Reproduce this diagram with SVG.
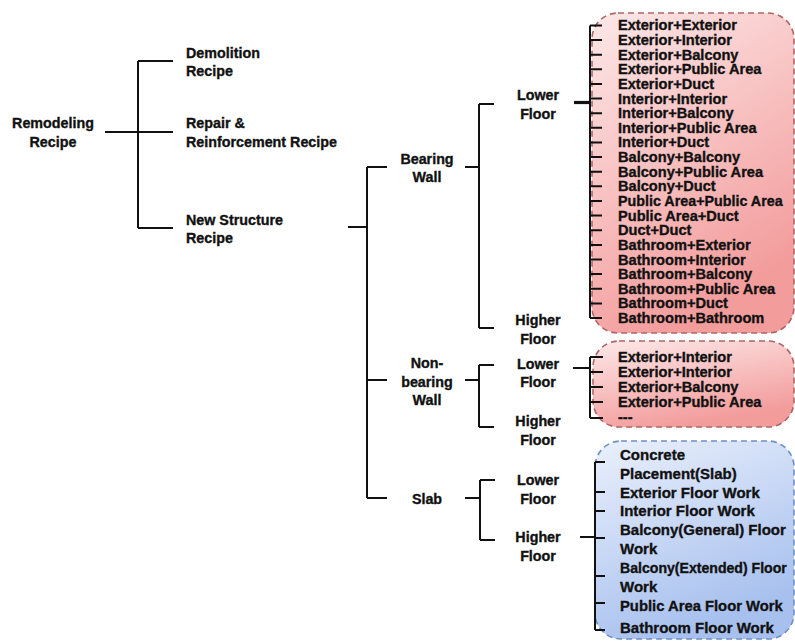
<svg xmlns="http://www.w3.org/2000/svg" width="795" height="644" viewBox="0 0 795 644">
<defs>
<linearGradient id="gRed" x1="0" y1="0" x2="0.4" y2="1">
<stop offset="0" stop-color="#fde8e8"/>
<stop offset="1" stop-color="#f39c9c"/>
</linearGradient>
<linearGradient id="gBlue" x1="0" y1="0" x2="0.4" y2="1">
<stop offset="0" stop-color="#eaf0fc"/>
<stop offset="1" stop-color="#a7c0ee"/>
</linearGradient>
<style>
text{font-family:"Liberation Sans",Arial,sans-serif;font-weight:bold;fill:#111;stroke:#111;stroke-width:0.35}
.lbl{font-size:14.3px;text-anchor:middle}
.lft{font-size:14.3px}
.red{font-size:14.6px}
.blu{font-size:15px}
.ln{stroke:#111;stroke-width:2;fill:none}
.boxr{fill:url(#gRed);stroke:#b06464;stroke-width:1.6;stroke-dasharray:6 4}
.boxb{fill:url(#gBlue);stroke:#6f8fc4;stroke-width:1.6;stroke-dasharray:6 4}
</style>
</defs>
<rect width="795" height="644" fill="#fff"/>

<g id="box-bearing-lower">
<rect class="boxr" x="592" y="13" width="202" height="320" rx="26"/>
<text class="red" x="618" y="30.4">Exterior+Exterior</text>
<text class="red" x="618" y="45.0">Exterior+Interior</text>
<text class="red" x="618" y="59.7">Exterior+Balcony</text>
<text class="red" x="618" y="74.3">Exterior+Public Area</text>
<text class="red" x="618" y="88.9">Exterior+Duct</text>
<text class="red" x="618" y="103.6">Interior+Interior</text>
<text class="red" x="618" y="118.2">Interior+Balcony</text>
<text class="red" x="618" y="132.8">Interior+Public Area</text>
<text class="red" x="618" y="147.4">Interior+Duct</text>
<text class="red" x="618" y="162.1">Balcony+Balcony</text>
<text class="red" x="618" y="176.7">Balcony+Public Area</text>
<text class="red" x="618" y="191.3">Balcony+Duct</text>
<text class="red" x="618" y="206.0" style="font-size:14.3px">Public Area+Public Area</text>
<text class="red" x="618" y="220.6">Public Area+Duct</text>
<text class="red" x="618" y="235.2">Duct+Duct</text>
<text class="red" x="618" y="249.9">Bathroom+Exterior</text>
<text class="red" x="618" y="264.5">Bathroom+Interior</text>
<text class="red" x="618" y="279.1">Bathroom+Balcony</text>
<text class="red" x="618" y="293.7">Bathroom+Public Area</text>
<text class="red" x="618" y="308.4">Bathroom+Duct</text>
<text class="red" x="618" y="323.0">Bathroom+Bathroom</text>
</g>

<g id="box-nonbearing-lower">
<rect class="boxr" x="593" y="341" width="201" height="86" rx="26"/>
<text class="red" x="618" y="362">Exterior+Interior</text>
<text class="red" x="618" y="377">Exterior+Interior</text>
<text class="red" x="618" y="392">Exterior+Balcony</text>
<text class="red" x="618" y="407">Exterior+Public Area</text>
<text class="red" x="618" y="421.5">---</text>
</g>

<g id="box-slab">
<rect class="boxb" x="595" y="441" width="199" height="198" rx="26"/>
<text class="blu" x="620" y="460">Concrete</text>
<text class="blu" x="620" y="478.5">Placement(Slab)</text>
<text class="blu" x="620" y="497.5">Exterior Floor Work</text>
<text class="blu" x="620" y="516">Interior Floor Work</text>
<text class="blu" x="620" y="535">Balcony(General) Floor</text>
<text class="blu" x="620" y="553.5">Work</text>
<text class="blu" x="620" y="573" style="font-size:14.1px">Balcony(Extended) Floor</text>
<text class="blu" x="620" y="591.5">Work</text>
<text class="blu" x="620" y="610.5" style="font-size:14.8px">Public Area Floor Work</text>
<text class="blu" x="620" y="633">Bathroom Floor Work</text>
</g>

<g id="n-remodeling"><text class="lbl" x="53" y="128">Remodeling</text><text class="lbl" x="53" y="147">Recipe</text></g>
<g id="n-demolition"><text class="lft" x="186" y="58">Demolition</text><text class="lft" x="186" y="76">Recipe</text></g>
<g id="n-repair"><text class="lft" x="186" y="128">Repair &amp;</text><text class="lft" x="186" y="147">Reinforcement Recipe</text></g>
<g id="n-newstructure"><text class="lft" x="186" y="224.5">New Structure</text><text class="lft" x="186" y="243">Recipe</text></g>
<g id="n-bearing"><text class="lbl" x="427" y="163.5">Bearing</text><text class="lbl" x="427" y="182">Wall</text></g>
<g id="n-nonbearing"><text class="lbl" x="427" y="368">Non-</text><text class="lbl" x="427" y="386.5">bearing</text><text class="lbl" x="427" y="405">Wall</text></g>
<g id="n-slab"><text class="lbl" x="427" y="503.5">Slab</text></g>
<g id="n-bw-lower"><text class="lbl" x="538" y="100">Lower</text><text class="lbl" x="538" y="118.5">Floor</text></g>
<g id="n-bw-higher"><text class="lbl" x="538" y="324.5">Higher</text><text class="lbl" x="538" y="343.5">Floor</text></g>
<g id="n-nb-lower"><text class="lbl" x="538" y="368.5">Lower</text><text class="lbl" x="538" y="387">Floor</text></g>
<g id="n-nb-higher"><text class="lbl" x="538" y="426">Higher</text><text class="lbl" x="538" y="445">Floor</text></g>
<g id="n-sl-lower"><text class="lbl" x="538" y="485">Lower</text><text class="lbl" x="538" y="503.5">Floor</text></g>
<g id="n-sl-higher"><text class="lbl" x="538" y="542">Higher</text><text class="lbl" x="538" y="561">Floor</text></g>

<g id="connectors">
<path class="ln" d="M105 132H138M138 61V228M138 61H173M138 132H173M138 228H173"/>
<path class="ln" d="M348 227H367M367 167V498M367 167H387M367 380H387M367 498H387"/>
<path class="ln" d="M465 167H479M479 104V328M479 104H494M479 328H494"/>
<path class="ln" d="M465 380H479M479 365V427M479 365H494M479 427H494"/>
<path class="ln" d="M465 498H480M480 480V540M480 480H495M480 540H495"/>
<path class="ln" d="M574 102.5H590" style="stroke-width:3.2"/>
<path class="ln" d="M590 25.4V318M590 25.4H602M590 40H602M590 54.7H602M590 69.3H602M590 83.9H602M590 98.6H602M590 113.2H602M590 127.8H602M590 142.4H602M590 157.1H602M590 171.7H602M590 186.3H602M590 201H602M590 215.6H602M590 230.2H602M590 244.9H602M590 259.5H602M590 274.1H602M590 288.7H602M590 303.4H602M590 318H602"/>
<path class="ln" d="M573 368H590M590 357V418M590 357H603M590 372H603M590 387H603M590 402H603M590 418H603"/>
<path class="ln" d="M580 537H595M595 462V630M595 462H605M595 492H605M595 511H605M595 538H605M595 576H605M595 603H605M595 630H605"/>
</g>
</svg>
